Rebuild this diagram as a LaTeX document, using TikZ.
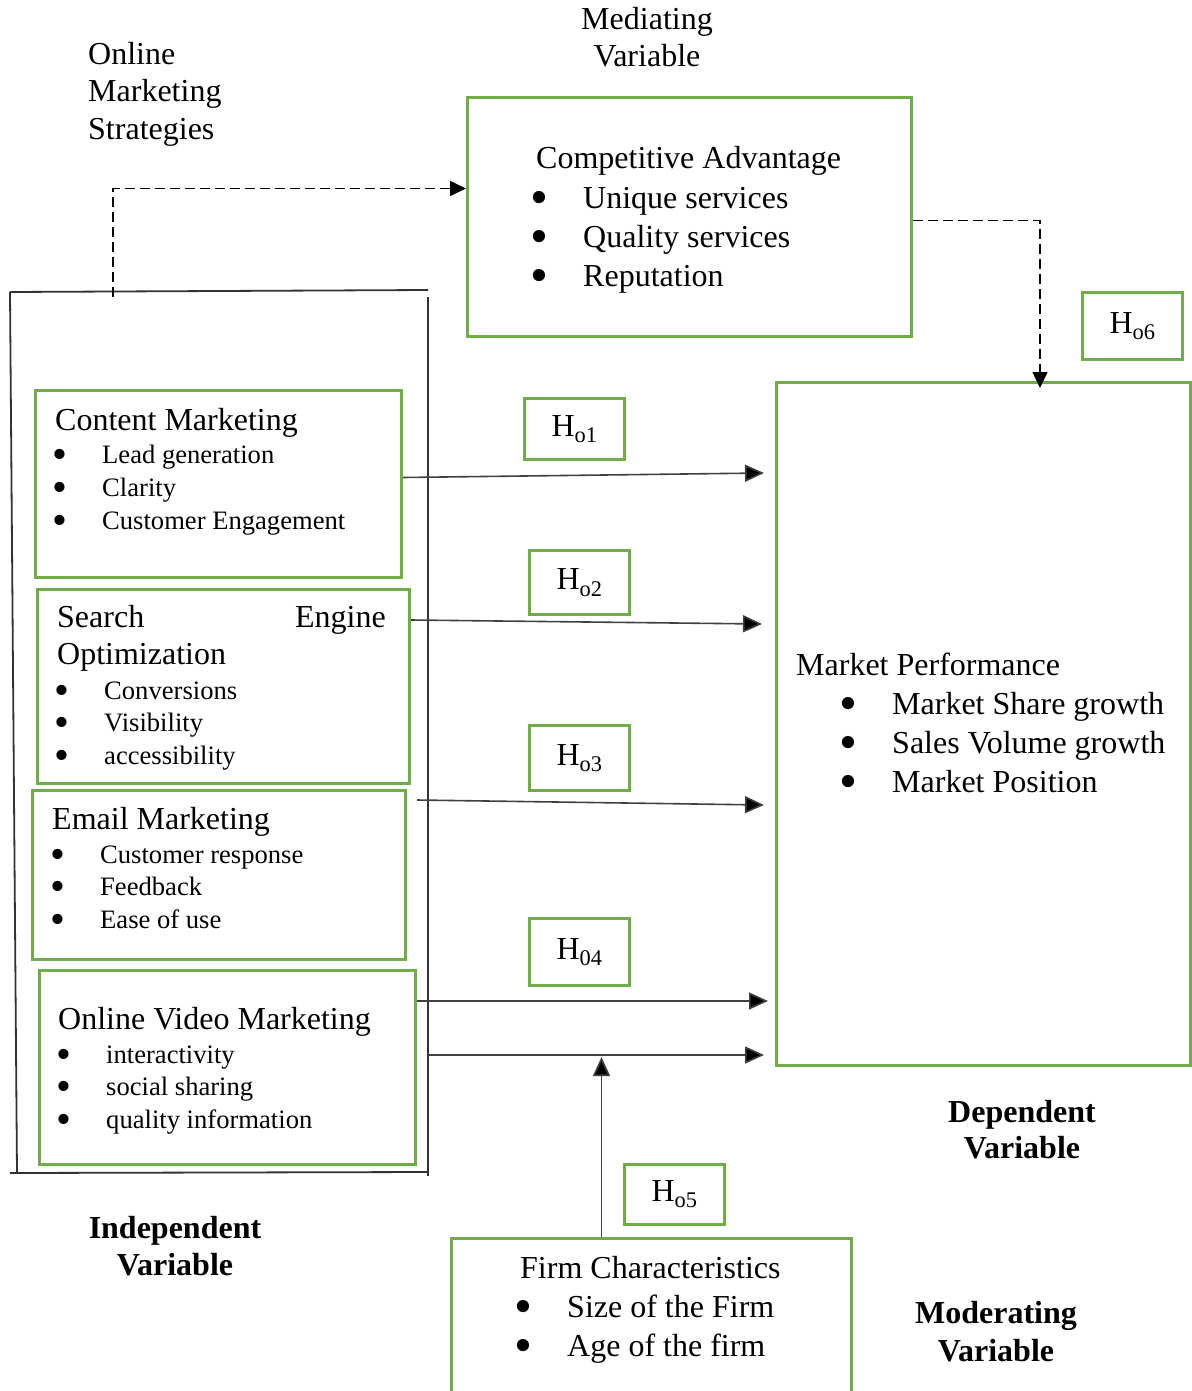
\documentclass[tikz,border=0pt]{standalone}
\usepackage{fontspec}
\setmainfont{Liberation Serif}
\usetikzlibrary{arrows.meta,positioning}

\definecolor{boxgreen}{RGB}{112,173,71}
\newcommand{\bul}{\llap{\raisebox{-0.2em}{\scalebox{1.6}{\textbullet}}\hspace{35pt}}}

\begin{document}
\begin{tikzpicture}[x=1pt,y=-1pt,
  gbox/.style={draw=boxgreen, line width=3pt, anchor=north west, inner sep=0pt},
  hbox/.style={gbox, minimum width=100pt, minimum height=63pt, font=\fontsize{32}{38}\selectfont},
  big/.style={font=\fontsize{32}{38}\selectfont, inner sep=0pt, anchor=base west},
  small/.style={font=\fontsize{26.6}{32}\selectfont, inner sep=0pt, anchor=base west},
  head/.style={font=\fontsize{32}{38}\selectfont\bfseries, inner sep=0pt, anchor=base},
  arr/.style={line width=1.6pt, draw=black!75, -{Triangle[length=19pt,width=17pt,fill=black]}},
  darr/.style={line width=1.6pt, dash pattern=on 10pt off 5pt, -{Triangle[length=16pt,width=15pt]}},
  frame/.style={line width=1.8pt, draw=black!80}
]
\useasboundingbox (0,0) rectangle (1191,1391);

%% Mediating variable
\node[big, anchor=base] (medl1) at (647,30) {Mediating};
\node[big, anchor=base] (medl2) at (647,67) {Variable};
\node[gbox, minimum width=444pt, minimum height=239pt] (med) at (466,96) {};
\node[big] (medt) at (536,168) {Competitive Advantage};
\node[big] (med1) at (583,208) {\bul Unique services};
\node[big] (med2) at (583,247) {\bul Quality services};
\node[big] (med3) at (583,286) {\bul Reputation};

%% Independent variables
\node[big] (oms1) at (88,65) {Online};
\node[big] (oms2) at (88,102) {Marketing};
\node[big] (oms3) at (88,140) {Strategies};

\coordinate (ftl) at (10,292);
\coordinate (ftr) at (428,290);
\coordinate (fbl) at (10,1173);
\coordinate (fbr) at (428,1172);
\draw[frame] (ftl) -- (ftr);
\draw[frame] (ftl) -- (17,1173);
\draw[frame] ([yshift=-7pt]ftr) -- ([yshift=-4pt]fbr);
\draw[frame] (fbl) -- (fbr);

\node[gbox, minimum width=366pt, minimum height=187pt] (cm) at (34,389) {};
\node[big] (cmt) at (55,430) {Content Marketing};
\node[small] (cm1) at (102,463) {\bul Lead generation};
\node[small] (cm2) at (102,496) {\bul Clarity};
\node[small] (cm3) at (102,529) {\bul Customer Engagement};

\node[gbox, minimum width=372pt, minimum height=194pt] (seo) at (36,588) {};
\node[big] (seot) at (57,627) {Search};
\node[big, anchor=base east] (seot2) at (386,627) {Engine};
\node[big] (seot3) at (57,664) {Optimization};
\node[small] (seo1) at (104,699) {\bul Conversions};
\node[small] (seo2) at (104,731) {\bul Visibility};
\node[small] (seo3) at (104,764) {\bul accessibility};

\node[gbox, minimum width=373pt, minimum height=169pt] (em) at (31,789) {};
\node[big] (emt) at (52,829) {Email Marketing};
\node[small] (em1) at (100,863) {\bul Customer response};
\node[small] (em2) at (100,895) {\bul Feedback};
\node[small] (em3) at (100,928) {\bul Ease of use};

\node[gbox, minimum width=376pt, minimum height=194pt] (ovm) at (38,969) {};
\node[big] (ovmt) at (58,1029) {Online Video Marketing};
\node[small] (ovm1) at (106,1063) {\bul interactivity};
\node[small] (ovm2) at (106,1095) {\bul social sharing};
\node[small] (ovm3) at (106,1128) {\bul quality information};

\node[head] (ivl1) at (175,1238) {Independent};
\node[head] (ivl2) at (175,1275) {Variable};

%% Dependent variable
\node[gbox, minimum width=414pt, minimum height=683pt] (mp) at (775,381) {};
\node[big] (mpt) at (796,675) {Market Performance};
\node[big] (mp1) at (892,714) {\bul Market Share growth};
\node[big] (mp2) at (892,753) {\bul Sales Volume growth};
\node[big] (mp3) at (892,792) {\bul Market Position};
\node[head] (dvl1) at (1022,1122) {Dependent};
\node[head] (dvl2) at (1022,1158) {Variable};

%% Moderating variable
\node[gbox, minimum width=400pt, minimum height=170pt] (fc) at (450,1237) {};
\node[big] (fct) at (520,1278) {Firm Characteristics};
\node[big] (fc1) at (567,1317) {\bul Size of the Firm};
\node[big] (fc2) at (567,1356) {\bul Age of the firm};
\node[head] (mvl1) at (996,1323) {Moderating};
\node[head] (mvl2) at (996,1361) {Variable};

%% Hypotheses
\node[hbox, minimum height=61pt] (h1) at (523,397) {H\textsubscript{o1}};
\node[hbox, minimum height=64pt] (h2) at (528,549) {H\textsubscript{o2}};
\node[hbox, minimum height=65pt] (h3) at (528,724) {H\textsubscript{o3}};
\node[hbox, minimum height=67pt] (h4) at (528,917) {H\textsubscript{04}};
\node[hbox, minimum height=60pt] (h5) at (623,1163) {H\textsubscript{o5}};
\node[hbox, minimum height=67pt] (h6) at (1081,291) {H\textsubscript{o6}};

%% Arrows
\draw[arr] ([yshift=6.5pt]cm.east) -- ([xshift=-11pt]mp.west |- 0,473);
\draw[arr] ([yshift=-32pt]seo.north east) -- ([xshift=-13pt]mp.west |- 0,624);
\draw[arr] ([xshift=10pt,yshift=-11pt]em.north east) -- ([xshift=-11pt]mp.west |- 0,805);
\draw[arr] ([yshift=-32pt]ovm.north east) -- ([xshift=-7pt]mp.west |- 0,1001);
\draw[arr] (ftr |- 0,1055) -- ([xshift=-11pt]mp.west |- 0,1055);
\draw[arr] ([xshift=-50pt]fc.north) -- ++(0,-180);

%% Mediating arrows
\draw[darr] (113,297) |- ([yshift=28.5pt]med.west);
\draw[darr] ([yshift=-3.5pt]med.east) -| ([xshift=265pt,yshift=-7pt]mp.north west);

\end{tikzpicture}
\end{document}
